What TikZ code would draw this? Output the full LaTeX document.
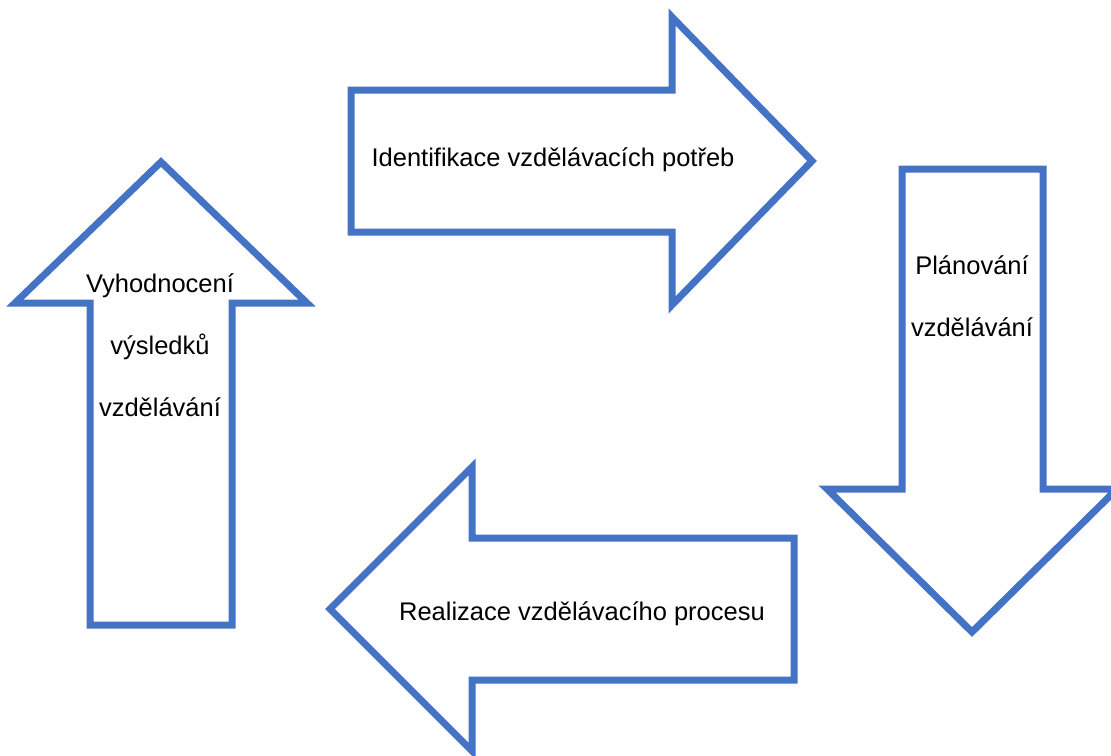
\documentclass[tikz,border=0pt]{standalone}
\usepackage{fontspec}
\setmainfont{Liberation Sans}
\definecolor{stepblue}{RGB}{68,114,196}

\begin{document}
\begin{tikzpicture}[x=1pt,y=-1pt]
\tikzset{blockarrow/.style={draw=stepblue, line width=7pt, fill=white, line join=miter, miter limit=10},
         steptext/.style={inner sep=0pt, align=center, font=\fontsize{25.5}{62}\selectfont}}
\useasboundingbox (0,0) rectangle (1111,755);
% top arrow, pointing right
\draw [blockarrow] (351,90) -- (672,90) -- (672,17) -- (812,161) -- (672,305) -- (672,232) -- (351,232) -- cycle;
% right arrow, pointing down
\draw [blockarrow] (902,169) -- (1043,169) -- (1043,489) -- (1117,489) -- (972,632) -- (827,489) -- (902,489) -- cycle;
% bottom arrow, pointing left
\draw [blockarrow] (794,538) -- (794,680) -- (472,680) -- (472,751) -- (330,609) -- (472,467) -- (472,538) -- cycle;
% left arrow, pointing up
\draw [blockarrow] (90,625) -- (90,303) -- (15,303) -- (161,162) -- (307,303) -- (232,303) -- (232,625) -- cycle;
% texts
\node [steptext] (potreby) at (553,160) {Identifikace vzdělávacích potřeb};
\node [steptext] (planovani) at (972,296) {Plánování\\vzdělávání};
\node [steptext] (realizace) at (582,614) {Realizace vzdělávacího procesu};
\node [steptext] (vyhodnoceni) at (160,345) {Vyhodnocení\\výsledků\\vzdělávání};
\end{tikzpicture}
\end{document}
